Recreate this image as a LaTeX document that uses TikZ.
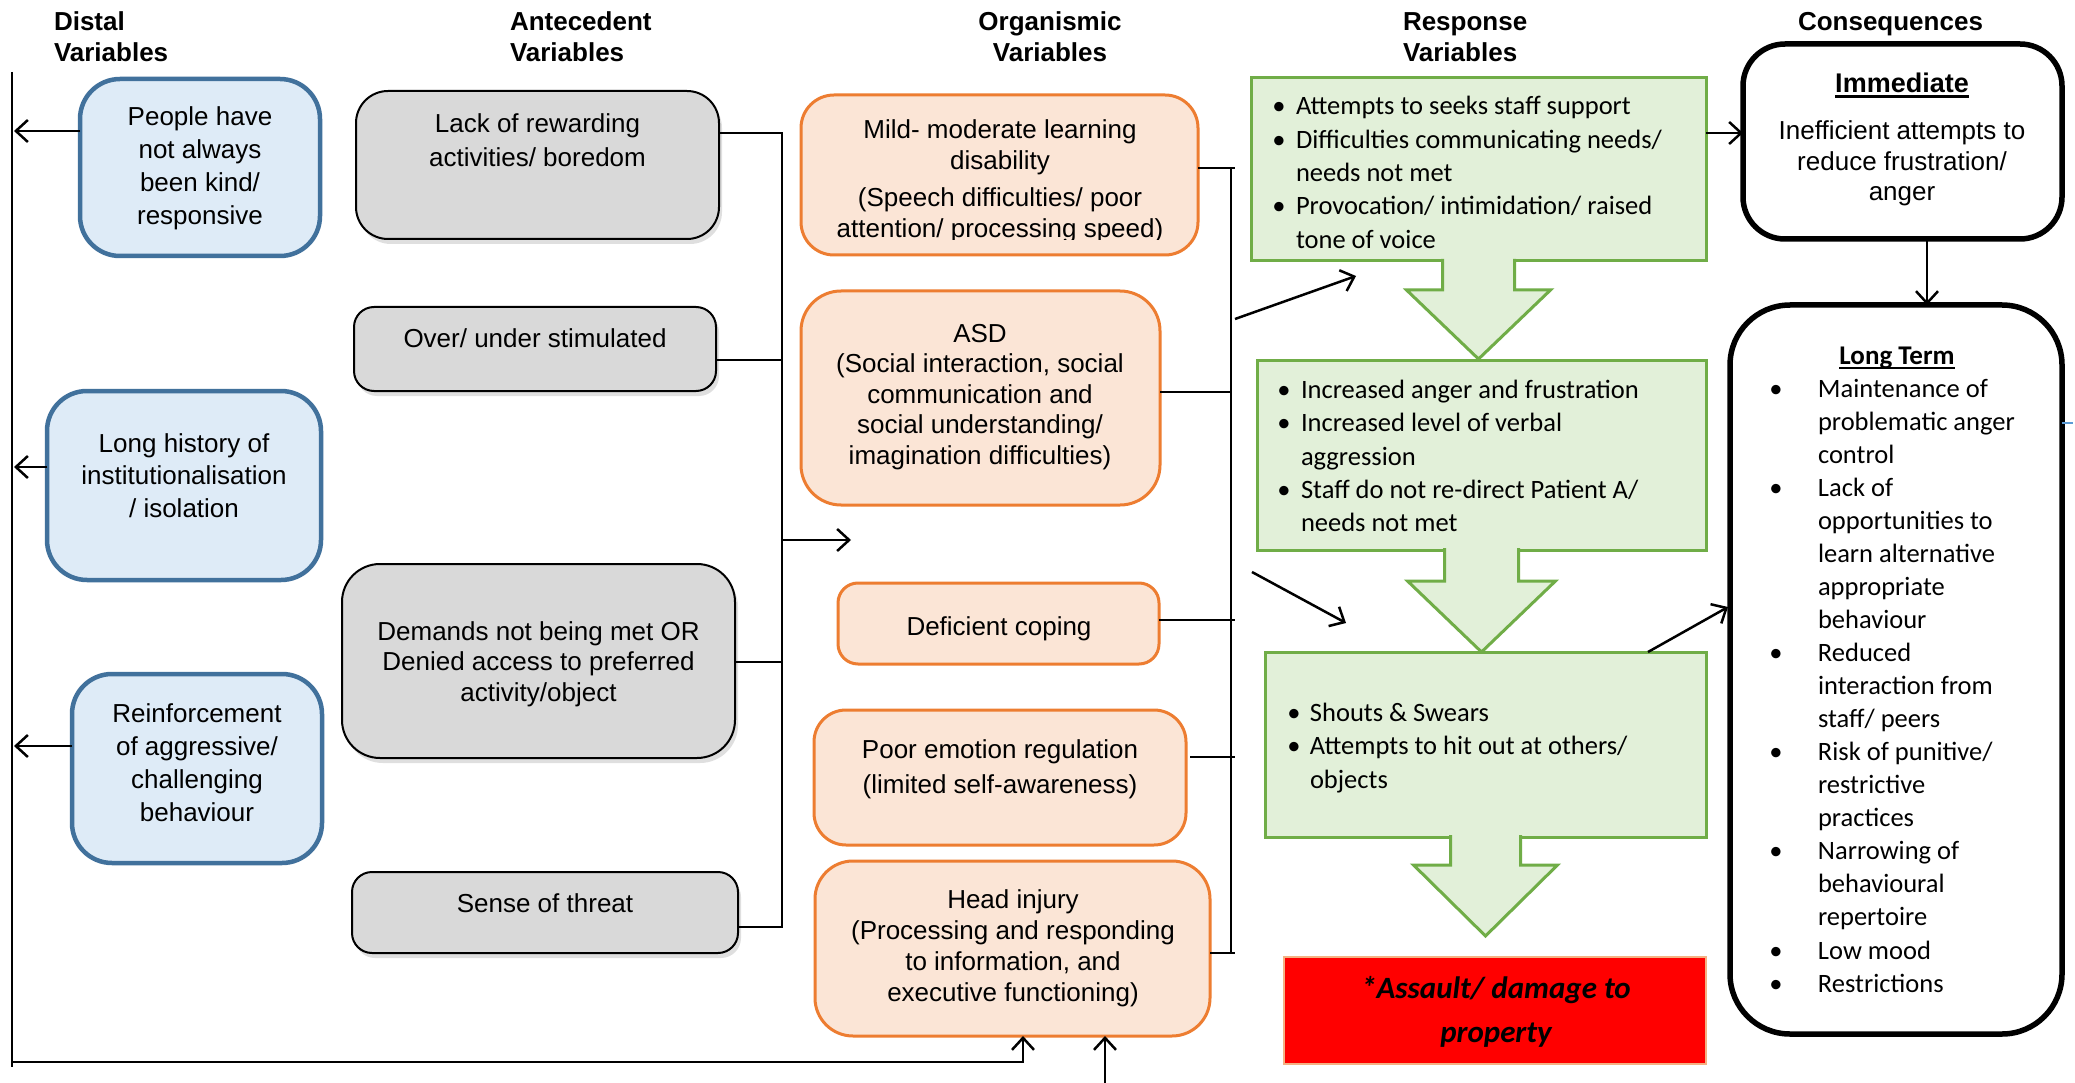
\documentclass[tikz,border=0pt]{standalone}
\usepackage{fontspec}
\setmainfont{Liberation Sans}
\newfontfamily\carl{Carlito}
\usetikzlibrary{arrows.meta,shadows,calc}
\definecolor{bluefill}{HTML}{DEEBF7}
\definecolor{blueline}{HTML}{41719C}
\definecolor{grayfill}{HTML}{D9D9D9}
\definecolor{orfill}{HTML}{FBE5D6}
\definecolor{orline}{HTML}{ED7D31}
\definecolor{grfill}{HTML}{E2F0D9}
\definecolor{grline}{HTML}{70AD47}
\definecolor{redfill}{HTML}{FF0000}
\definecolor{redline}{HTML}{F4B183}
\definecolor{tickblue}{HTML}{5B9BD5}
\newlength{\bw}
\newcommand{\mybul}{\makebox[\bw][c]{\textbullet}}
\newcommand{\mytxt}[4]{{\fontsize{#1}{#2}\selectfont\begin{tabular}[t]{@{}#3@{}}#4\end{tabular}}}
\newcommand{\mylist}[4]{{\carl\fontsize{#1}{#2}\selectfont\setlength{\bw}{#3}\begin{tabular}[t]{@{}l@{}l@{}}#4\end{tabular}}}
\newcommand{\myul}[1]{\sbox0{#1}\rlap{\rule[-5pt]{\wd0}{2.5pt}}\usebox0}
\begin{document}
\begin{tikzpicture}[x=1pt,y=-1pt,
  every node/.style={inner sep=0pt, outer sep=0pt},
  bluebox/.style={draw=blueline, fill=bluefill, line width=4.5pt, rounded corners=40pt},
  graybox/.style={draw=black, fill=grayfill, line width=2pt, rounded corners=30pt,
     drop shadow={shadow xshift=3pt, shadow yshift=-5pt, opacity=0.25}},
  orbox/.style={draw=orline, fill=orfill, line width=3pt, rounded corners=33pt},
  grbox/.style={draw=grline, fill=grfill, line width=3pt},
  conbox/.style={draw=black, fill=white, line width=5.5pt, rounded corners=42pt},
  link/.style={draw=black, line width=2pt},
  arr/.style={draw=black, line width=2.5pt, -{Straight Barb[length=12pt,width=22pt]}},
  blockarr/.style={fill=grfill, draw=grline, line width=3pt, line join=miter},
  hdr/.style={font=\bfseries}
]
\useasboundingbox (0,0) rectangle (2075,1083);
\fill[white] (0,0) rectangle (2075,1083);

% headers
\node[hdr, anchor=base west] (hD) at (54,31) {\mytxt{26}{31}{l}{Distal\\Variables}};
\node[hdr, anchor=base west] (hA) at (510,31) {\mytxt{26}{31}{l}{Antecedent\\Variables}};
\node[hdr, anchor=base] (hO) at (1050,31) {\mytxt{26}{31}{c}{Organismic\\Variables}};
\node[hdr, anchor=base west] (hR) at (1403,31) {\mytxt{26}{31}{l}{Response\\Variables}};
\node[hdr, anchor=base west] (hC) at (1798,31) {\mytxt{26}{31}{l}{Consequences}};

% distal
\node[bluebox, minimum width=240, minimum height=177] (D1) at (200,167.5) {};
\node[anchor=base] (D1t) at (200,126) {\mytxt{26}{33}{c}{People have\\not always\\been kind/\\responsive}};
\node[bluebox, minimum width=274, minimum height=189] (D2) at (184,485.5) {};
\node[anchor=base] (D2t) at (184,452) {\mytxt{26}{32.5}{c}{Long history of\\institutionalisation\\/ isolation}};
\node[bluebox, minimum width=250, minimum height=189] (D3) at (197,768.5) {};
\node[anchor=base] (D3t) at (197,722) {\mytxt{26}{33}{c}{Reinforcement\\of aggressive/\\challenging\\behaviour}};

% antecedent
\node[graybox, minimum width=363, minimum height=148, rounded corners=32pt] (A1) at (537.5,165) {};
\node[anchor=base] (A1t) at (537.5,133) {\mytxt{26}{34}{c}{Lack of rewarding\\activities/ boredom}};
\node[graybox, minimum width=362, minimum height=84, rounded corners=20pt] (A2) at (535,349) {};
\node[anchor=base] (A2t) at (535,347.5) {\mytxt{26}{31}{c}{Over/ under stimulated}};
\node[graybox, minimum width=393, minimum height=194, rounded corners=38pt] (A3) at (538.5,661) {};
\node[anchor=base] (A3t) at (538.5,640) {\mytxt{26}{30.5}{c}{Demands not being met OR\\Denied access to preferred\\activity/object}};
\node[graybox, minimum width=386, minimum height=81, rounded corners=20pt] (A4) at (545,912.5) {};
\node[anchor=base] (A4t) at (545,912) {\mytxt{26}{31}{c}{Sense of threat}};

% organismic
\node[orbox, minimum width=397, minimum height=160] (O1) at (999.5,175) {};
\begin{scope}
\clip (801,95) rectangle (1199,240);
\node[anchor=base] (O1t) at (1000,139) {\mytxt{26}{31}{c}{Mild- moderate learning\\disability\\[6pt](Speech difficulties/ poor\\attention/ processing speed)}};
\end{scope}
\node[orbox, minimum width=359, minimum height=214, rounded corners=40pt] (O2) at (980.5,398) {};
\node[anchor=base] (O2t) at (980,342) {\mytxt{26}{30.5}{c}{ASD\\(Social interaction, social\\communication and\\social understanding/\\imagination difficulties)}};
\node[orbox, minimum width=321, minimum height=81, rounded corners=20pt] (O3) at (998.5,623.5) {};
\node[anchor=base] (O3t) at (999,635) {\mytxt{26}{31}{c}{Deficient coping}};
\node[orbox, minimum width=372, minimum height=135, rounded corners=32pt] (O4) at (1000,777.5) {};
\node[anchor=base] (O4t) at (1000,758) {\mytxt{26}{35}{c}{Poor emotion regulation\\(limited self-awareness)}};
\node[orbox, minimum width=395, minimum height=175, rounded corners=38pt] (O5) at (1012.5,948.5) {};
\node[anchor=base] (O5t) at (1013,908.5) {\mytxt{26}{31}{c}{Head injury\\(Processing and responding\\to information, and\\executive functioning)}};

% response
\node[grbox, minimum width=455, minimum height=183] (R1) at (1478.5,169.5) {};
\node[anchor=base west] (R1t) at (1262,115) {\mylist{26.5}{33.3}{34pt}{\mybul & Attempts to seeks staff support\\ \mybul & Difficulties communicating needs/\\ & needs not met\\ \mybul & Provocation/ intimidation/ raised\\ & tone of voice}};
\filldraw[blockarr] ($(R1.south)+(-36,-2)$) -- ++(0,31) -- ++(-36,0) -- ($(R1.south)+(0,98)$) -- ($(R1.south)+(72,29)$) -- ++(-36,0) -- ++(0,-31);
\node[grbox, minimum width=449, minimum height=190] (R2) at (1481.5,455) {};
\node[anchor=base west] (R2t) at (1267,398) {\mylist{26.5}{33.5}{34pt}{\mybul & Increased anger and frustration\\ \mybul & Increased level of verbal\\ & aggression\\ \mybul & Staff do not re-direct Patient A/\\ & needs not met}};
\filldraw[blockarr] ($(R2.south)+(-37,-2)$) -- ++(0,33) -- ++(-37,0) -- ($(R2.south)+(0,102)$) -- ($(R2.south)+(74,31)$) -- ++(-37,0) -- ++(0,-33);
\node[grbox, minimum width=441, minimum height=185] (R3) at (1485.5,744.5) {};
\node[anchor=base west] (R3t) at (1278,721) {\mylist{26.5}{33.5}{32pt}{\mybul & Shouts \& Swears\\ \mybul & Attempts to hit out at others/\\ & objects}};
\filldraw[blockarr] ($(R3.south)+(-35,-2)$) -- ++(0,30) -- ++(-37,0) -- ($(R3.south)+(0,99)$) -- ($(R3.south)+(72,28)$) -- ++(-37,0) -- ++(0,-30);
\node[draw=redline, fill=redfill, line width=2pt, minimum width=422, minimum height=107] (X) at (1495,1010.5) {};
\node[anchor=base] (Xt) at (1496,998) {\carl\bfseries\itshape\mytxt{31}{44}{c}{*Assault/ damage to\\property}};

% consequences
\node[conbox, minimum width=319, minimum height=195] (Imm) at (1902.5,141.5) {};
\node[anchor=base] (Immh) at (1902,93) {\bfseries\fontsize{27}{32}\selectfont\myul{Immediate}};
\node[anchor=base] (Immt) at (1902,140) {\mytxt{26}{30.5}{c}{Inefficient attempts to\\reduce frustration/\\anger}};
\node[conbox, minimum width=332, minimum height=729, rounded corners=60pt] (LT) at (1896,669.5) {};
\node[anchor=base] (LTh) at (1897,364) {\carl\bfseries\fontsize{27}{32}\selectfont\myul{Long Term}};
\node[anchor=base west] (LTt) at (1734,397) {\mylist{26.5}{33.06}{84pt}{\mybul & Maintenance of\\ & problematic anger\\ & control\\ \mybul & Lack of\\ & opportunities to\\ & learn alternative\\ & appropriate\\ & behaviour\\ \mybul & Reduced\\ & interaction from\\ & staff/ peers\\ \mybul & Risk of punitive/\\ & restrictive\\ & practices\\ \mybul & Narrowing of\\ & behavioural\\ & repertoire\\ \mybul & Low mood\\ \mybul & Restrictions}};
\draw[tickblue, line width=1.5pt] (LT.east |- 0,423) -- ++(11,0);

% left feedback bus
\coordinate (lbT) at (12,72);
\coordinate (lbB) at (12,1067);
\coordinate (fb) at (12,1062);
\coordinate (fbc) at (1023,1062);
\coordinate (hin) at (1105,1083);
\draw[link] (lbT) -- (lbB);
\draw[arr] (D1.west |- 0,131) -- (14,131);
\draw[arr] (D2.west |- 0,467) -- (14,467);
\draw[arr] (D3.west |- 0,746) -- (14,746);
\draw[arr] (fb) -- (fbc) -- (O5.south -| fbc);
\draw[arr] (hin) -- (O5.south -| hin);

% antecedent bus
\coordinate (ab1) at (782,133);
\coordinate (ab2) at (782,360);
\coordinate (ab3) at (782,662);
\coordinate (ab4) at (782,927);
\coordinate (abm) at (782,540);
\coordinate (oin) at (851,540);
\draw[link] (A1.east |- ab1) -- (ab1) -- (ab4) -- (A4.east |- ab4);
\draw[link] (A2.east |- ab2) -- (ab2);
\draw[link] (A3.east |- ab3) -- (ab3);
\draw[arr] (abm) -- (oin);

% organismic bus
\coordinate (ob1) at (1235,168);
\coordinate (ob2) at (1231,392);
\coordinate (ob3) at (1235,620);
\coordinate (ob4) at (1235,757);
\coordinate (ob5) at (1235,953);
\draw[link] (O1.east |- ob1) -- (ob1);
\draw[link] (1231,168) -- (1231,953);
\draw[link] (O2.east |- ob2) -- (ob2);
\draw[link] (O3.east |- ob3) -- (ob3);
\draw[link] ($(O4.east |- ob4)+(4,0)$) -- (ob4);
\draw[link] (O5.east |- ob5) -- (ob5);
\coordinate (d1s) at (1235,319);
\coordinate (d1e) at (1356,276);
\coordinate (d2s) at (1252,572);
\coordinate (d2e) at (1346,623);
\draw[arr] (d1s) -- (d1e);
\draw[arr] (d2s) -- (d2e);

% consequence arrows
\draw[arr] (R1.east |- 0,133) -- (Imm.west |- 0,133);
\draw[arr] (Imm.south -| 1927,0) -- (LT.north -| 1927,0);
\draw[arr] ($(R3.north east)+(-58,0)$) -- ($(LT.west |- 0,607)+(-2,0)$);
\end{tikzpicture}
\end{document}
